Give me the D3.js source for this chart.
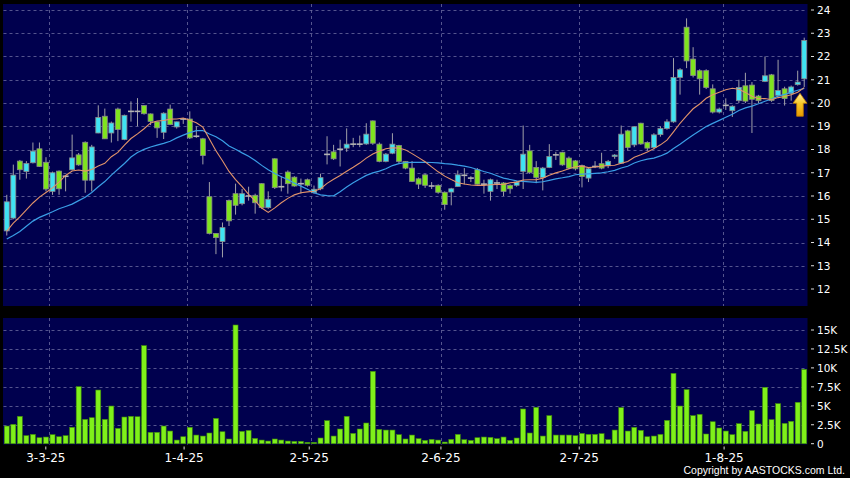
<!DOCTYPE html>
<html><head><meta charset="utf-8">
<script src="https://cdn.jsdelivr.net/npm/d3@7"></script>
<style>html,body{margin:0;padding:0;background:#000;}svg{display:block}</style>
</head><body><svg id="c" width="850" height="478"></svg>
<script>
// ---- data ----
const open  = [14.5,15.05,17.5,17.05,17.43,18.03,17.45,16.2,17.07,16.85,17.13,17.77,18.31,16.68,18.71,19.43,18.71,19.74,18.43,19.64,19.64,19.89,19.53,19.19,18.74,19.74,18.97,19.31,19.31,18.57,18.46,15.97,14.39,14.04,15.81,16.1,15.67,16.0,16.03,16.53,15.5,17.6,16.4,17.03,16.81,16.53,16.7,16.14,16.31,17.79,17.9,18.01,18.06,18.23,18.23,18.24,19.23,18.23,17.49,17.84,18.17,17.49,17.2,16.74,16.91,16.43,16.46,16.16,16.17,16.41,16.89,16.77,17.13,16.51,16.2,16.56,16.56,16.46,16.46,17.06,17.94,17.23,16.8,17.23,17.77,17.88,17.63,17.51,17.31,16.77,17.27,17.39,17.3,17.7,17.41,18.8,18.2,19.13,18.3,18.09,18.64,18.9,19.19,21.1,23.26,21.89,21.39,21.39,20.61,19.61,19.9,19.67,20.1,20.74,20.77,20.3,20.93,21.21,20.33,20.61,20.4,20.79,21.04];
const high  = [16.05,17.35,17.55,17.5,18.3,18.3,17.67,17.05,17.1,16.9,18.64,17.85,18.35,18.2,19.9,19.76,19.2,19.8,19.5,20.07,20.21,19.9,19.55,19.2,19.6,19.93,19.2,19.35,19.64,19.0,18.5,16.6,14.4,14.86,15.85,16.53,16.3,16.4,16.1,16.55,16.2,17.62,16.85,17.1,16.85,16.75,16.75,16.45,16.96,18.57,18.2,18.42,18.91,18.5,18.6,19.13,19.25,18.3,17.85,18.7,18.2,17.5,17.5,16.8,16.95,16.6,16.5,16.2,16.35,17.1,17.2,16.85,17.2,16.7,16.75,16.7,16.6,16.5,16.65,19.03,18.2,17.5,17.25,18.23,17.9,17.9,17.7,17.55,17.35,17.2,17.5,17.86,17.55,17.8,19.03,18.85,19.0,19.15,18.35,18.7,19.0,19.3,21.93,21.5,23.64,22.4,21.45,21.45,20.8,19.8,20.2,19.9,21.0,21.3,20.9,20.35,22.0,21.25,21.86,20.7,20.75,21.39,22.81];
const low   = [14.3,15.0,16.7,16.75,17.4,17.25,16.2,16.05,16.05,16.2,17.1,17.3,16.14,16.2,18.7,18.45,18.3,18.36,18.4,19.2,19.0,19.5,19.05,18.5,18.45,19.05,18.9,19.1,18.45,18.5,17.36,14.35,13.5,13.36,14.71,15.2,15.6,15.8,15.24,15.45,15.45,16.3,16.2,16.1,16.4,16.1,16.4,16.1,16.25,17.36,17.55,17.27,17.9,18.1,18.1,18.2,18.2,17.45,17.45,17.8,17.4,17.15,16.6,16.3,16.35,16.3,16.1,15.41,15.6,16.4,16.5,16.6,16.5,16.1,15.8,16.3,16.0,16.1,16.4,16.3,16.95,16.55,16.24,17.2,17.55,17.3,17.15,17.1,16.37,16.6,17.2,17.15,17.2,17.6,17.4,17.95,18.1,18.2,17.95,18.0,18.55,18.85,19.15,20.36,21.5,21.1,20.36,20.6,19.55,19.55,19.7,19.4,20.0,20.0,18.71,20.0,20.9,20.05,20.3,19.89,20.1,20.75,20.69];
const close = [15.75,16.9,17.13,17.4,17.93,17.27,16.3,17.0,16.31,16.85,17.64,17.34,16.68,18.11,19.38,18.46,19.14,18.86,19.47,19.64,19.64,19.54,19.21,18.93,19.56,19.07,19.19,19.31,18.5,18.57,17.74,14.39,14.21,14.64,14.93,15.6,16.1,16.0,15.71,15.5,15.86,16.36,16.4,16.53,16.43,16.53,16.46,16.29,16.79,17.79,17.6,18.01,18.23,18.23,18.23,18.66,18.27,17.49,17.8,18.23,17.49,17.2,16.63,16.51,16.46,16.43,16.16,15.63,16.31,16.91,16.89,16.77,16.51,16.51,16.7,16.56,16.2,16.31,16.6,17.8,17.01,16.8,17.2,17.7,17.77,17.34,17.2,17.17,16.84,17.17,17.27,17.2,17.49,17.76,18.66,18.09,18.98,18.24,18.06,18.63,18.9,19.19,21.1,21.43,21.81,21.18,21.04,20.67,19.61,19.74,19.9,19.86,20.67,20.08,20.16,20.1,21.17,20.11,20.54,20.19,20.69,20.9,22.69];
const volume = [2330,2550,3610,1060,1230,790,880,1190,920,1060,2160,7520,3210,3430,7080,3210,4970,2020,3520,3610,3560,12940,1500,1500,2330,1670,480,920,2160,1140,1010,1410,3340,1580,620,15660,1630,1760,700,480,350,620,480,350,310,310,180,180,750,3040,1010,1940,3610,1360,1940,2730,9550,1890,1800,1800,1190,620,1140,660,440,570,480,220,570,1230,530,440,790,880,840,660,880,440,750,4580,1410,4800,1010,3700,1140,1140,1140,1060,1360,1230,1230,1320,530,1800,4750,1670,2160,1760,920,1010,1230,3080,9280,4970,7130,3700,3870,1280,2900,2070,1670,1190,2640,1630,4360,2600,7440,3170,5280,2680,2950,5460,9810];
// MA values at the start of the window (earlier closes are not shown)
const ma10Lead = [14.49,14.83,15.1,15.4,15.7,15.95,16.15,16.35,16.6];
const ma20Lead = [14.15,14.3,14.47,14.7,14.92,15.08,15.2,15.32,15.45,15.55,15.65,15.8,15.95,16.15,16.4,16.62,16.9,17.15,17.4];
const dateLabels = ["3-3-25","1-4-25","2-5-25","2-6-25","2-7-25","1-8-25"];
const dateBars   = [6,27,46,66,87,109];
const priceTicks = [12,13,14,15,16,17,18,19,20,21,22,23,24];
const volTicks   = [0,2500,5000,7500,10000,12500,15000];
const volTickLabels = ["0","2.5K","5K","7.5K","10K","12.5K","15K"];
const arrowPrice = 20.42;

const N = close.length;
const ma10 = close.map((c,i)=> i<9 ? ma10Lead[i] : d3.mean(close.slice(i-9,i+1)));
const ma20 = close.map((c,i)=> i<19 ? ma20Lead[i] : d3.mean(close.slice(i-19,i+1)));

// ---- layout ----
const PL=3.5, PR=807.5, PT=4, PB=306, VT=318, VB=444.5;
const svg = d3.select("#c");
svg.append("rect").attr("width",850).attr("height",478).attr("fill","#000");

const x = d3.scaleBand().domain(d3.range(N)).range([PL, PR]).paddingInner(0.24).paddingOuter(0.12);
const step = x.step(), bw = x.bandwidth();
const cx = i => x(i) + bw/2;
const xl = d3.scaleBand().domain(d3.range(N)).range([3, 813]); // axis label positions
const y = d3.scaleLinear().domain([12,24]).range([289,10]);
const yv = d3.scaleLinear().domain([0,15000]).range([443.7,330]);

const NAVY="#00004e", GRID="#6a6a9e";
svg.append("rect").attr("x",PL-0.5).attr("y",PT).attr("width",PR-PL+0.5).attr("height",PB-PT).attr("fill",NAVY);
svg.append("rect").attr("x",PL-0.5).attr("y",VT).attr("width",PR-PL+0.5).attr("height",VB-VT).attr("fill",NAVY);

const g = svg.append("g");
g.selectAll(".hp").data(priceTicks).join("line")
  .attr("x1",PL).attr("x2",PR).attr("y1",d=>Math.round(y(d))+0.5).attr("y2",d=>Math.round(y(d))+0.5)
  .attr("stroke",GRID).attr("stroke-width",0.8).attr("stroke-dasharray","3,3");
g.selectAll(".hv").data(volTicks.slice(1)).join("line")
  .attr("x1",PL).attr("x2",PR).attr("y1",d=>Math.round(yv(d))+0.5).attr("y2",d=>Math.round(yv(d))+0.5)
  .attr("stroke",GRID).attr("stroke-width",0.8).attr("stroke-dasharray","3,3");
dateBars.forEach(b=>{
  const gx = Math.round(x(b)+bw/2+step/2)+0.5;
  [[PT,PB],[VT,VB]].forEach(([a,bb])=>{
    g.append("line").attr("x1",gx).attr("x2",gx).attr("y1",a).attr("y2",bb)
      .attr("stroke",GRID).attr("stroke-width",0.8).attr("stroke-dasharray","3,3");
  });
});

// ---- candles ----
const UP="#3fe3f3", DOWN="#7fe41e", EDGE="#8a8a8a", WICK="#a0a0a8";
const cg = svg.append("g");
const idx = d3.range(N);
cg.selectAll(".w").data(idx).join("line")
  .attr("x1",i=>cx(i)).attr("x2",i=>cx(i)).attr("y1",i=>y(high[i])).attr("y2",i=>y(low[i]))
  .attr("stroke",WICK).attr("stroke-width",1);
cg.selectAll(".b").data(idx.filter(i=>open[i]!==close[i])).join("rect")
  .attr("x",i=>x(i)).attr("width",bw)
  .attr("y",i=>y(Math.max(open[i],close[i])))
  .attr("height",i=>Math.max(1,Math.abs(y(open[i])-y(close[i]))))
  .attr("fill",i=>close[i]>open[i]?UP:DOWN)
  .attr("stroke",EDGE).attr("stroke-width",0.8);
cg.selectAll(".d").data(idx.filter(i=>open[i]===close[i])).join("line")
  .attr("x1",i=>x(i)-0.5).attr("x2",i=>x(i)+bw+0.5).attr("y1",i=>y(close[i])).attr("y2",i=>y(close[i]))
  .attr("stroke","#b4b4b4").attr("stroke-width",1.6);

// ---- moving averages ----
const line = arr => d3.line().x((d,i)=>cx(i)).y(d=>y(d))(arr);
svg.append("path").attr("d",line(ma20)).attr("fill","none").attr("stroke","#3a9ee6").attr("stroke-width",1.2);
svg.append("path").attr("d",line(ma10)).attr("fill","none").attr("stroke","#e3946a").attr("stroke-width",1.1);

// ---- arrow ----
const defs = svg.append("defs");
const grad = defs.append("linearGradient").attr("id","ag").attr("x1",0).attr("x2",0).attr("y1",0).attr("y2",1);
grad.append("stop").attr("offset","0%").attr("stop-color","#fff0a0");
grad.append("stop").attr("offset","45%").attr("stop-color","#f8c828");
grad.append("stop").attr("offset","100%").attr("stop-color","#e89a00");
const ax = cx(N-2) + step*0.35, ay = y(arrowPrice);
svg.append("path")
  .attr("d",`M${ax},${ay} L${ax+7},${ay+10} L${ax+3.3},${ay+10} L${ax+3.3},${ay+23} L${ax-3.3},${ay+23} L${ax-3.3},${ay+10} L${ax-7},${ay+10} Z`)
  .attr("fill","url(#ag)").attr("stroke","#c07a00").attr("stroke-width",0.8);

// ---- volume ----
svg.append("g").selectAll("rect").data(idx).join("rect")
  .attr("x",i=>x(i)).attr("width",bw)
  .attr("y",i=>yv(volume[i])).attr("height",i=>yv(0)-yv(volume[i]))
  .attr("fill","#7ff01a").attr("stroke","#3f8a0a").attr("stroke-width",0.6);

// ---- axes text ----
const FONT="DejaVu Sans, Verdana, sans-serif";
const ya = svg.append("g");
ya.selectAll("line").data(priceTicks).join("line")
  .attr("x1",811).attr("x2",814).attr("y1",d=>y(d)).attr("y2",d=>y(d)).attr("stroke","#ddd");
ya.selectAll("text").data(priceTicks).join("text")
  .attr("x",817).attr("y",d=>y(d)+3.8).text(d=>d)
  .attr("fill","#fff").attr("font-family",FONT).attr("font-size",10.5);
const va = svg.append("g");
va.selectAll("line").data(volTicks).join("line")
  .attr("x1",811).attr("x2",814).attr("y1",d=>yv(d)).attr("y2",d=>yv(d)).attr("stroke","#ddd");
va.selectAll("text").data(volTicks).join("text")
  .attr("x",817).attr("y",d=>yv(d)+3.8).text((d,i)=>volTickLabels[i])
  .attr("fill","#fff").attr("font-family",FONT).attr("font-size",10.5);
const xa = svg.append("g");
dateBars.forEach((b,k)=>{
  const lx = xl(b)+xl.bandwidth()/2;
  xa.append("line").attr("x1",lx).attr("x2",lx).attr("y1",446.5).attr("y2",449.5).attr("stroke","#ddd");
  xa.append("text").attr("x",lx).attr("y",462).attr("text-anchor","middle").text(dateLabels[k])
    .attr("fill","#fff").attr("font-family",FONT).attr("font-size",12);
});
svg.append("text").attr("x",845).attr("y",473.5).attr("text-anchor","end")
  .text("Copyright by AASTOCKS.com Ltd.")
  .attr("fill","#fff").attr("font-family","Liberation Sans, Arial, sans-serif").attr("font-size",10.5);
</script></body></html>
